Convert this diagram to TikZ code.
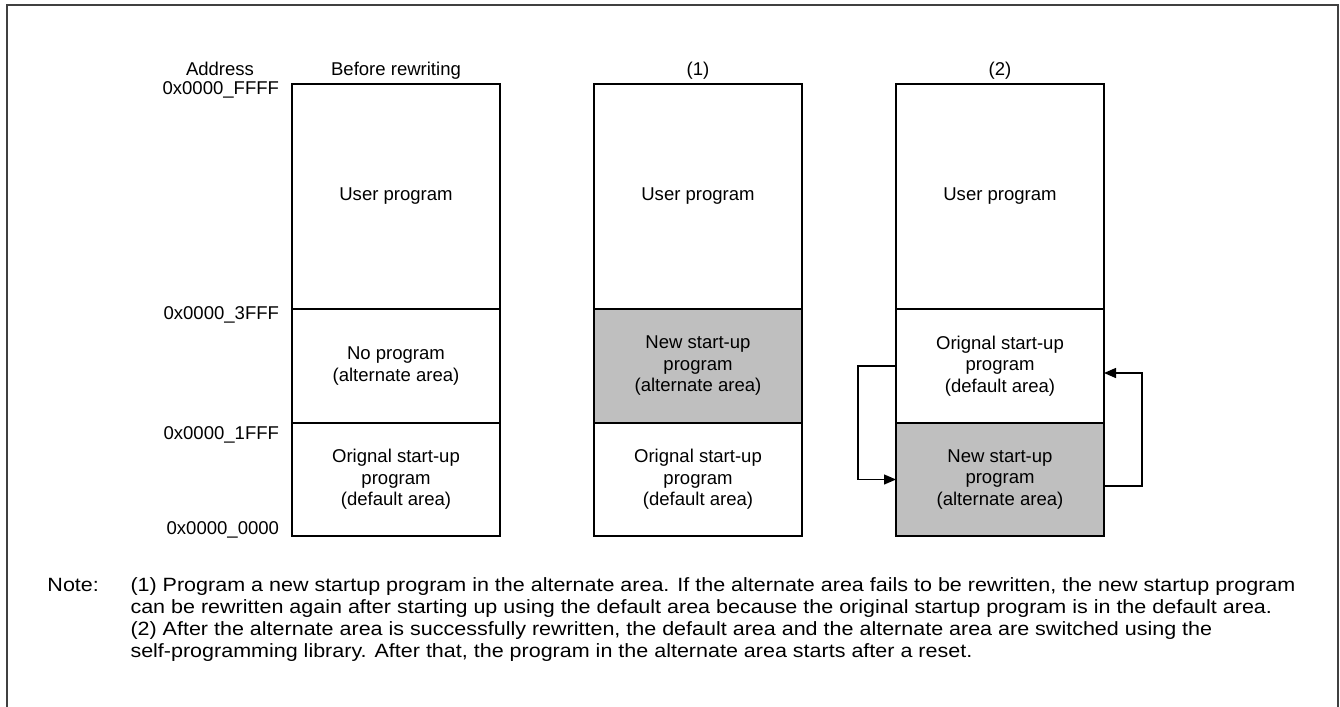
\documentclass[tikz,border=0pt]{standalone}
\usepackage{fontspec}
\setmainfont{Liberation Sans}
\newfontfamily\notefont[FakeStretch=1.12]{Liberation Sans}
\usetikzlibrary{arrows.meta}
\begin{document}
\begin{tikzpicture}[x=0.75pt,y=-0.75pt,
  every node/.style={font=\fontsize{13.9}{16.1}\selectfont, inner sep=0pt, outer sep=0pt},
  mem/.style={draw=black, line width=1.2pt, minimum width=156pt, align=center},
  hi/.style={mem, minimum height=168.75pt},
  mid/.style={mem, minimum height=85.5pt},
  lo/.style={mem, minimum height=84.75pt},
  shade/.style={fill=gray!50},
  addr/.style={anchor=base east},
  ttl/.style={anchor=base},
  arr/.style={line width=1pt, -{Triangle[length=9pt,width=7.5pt]}},
  ln/.style={anchor=base west, font=\notefont\fontsize{14.4}{16.5}\selectfont}]
\useasboundingbox (0,0) rectangle (1340,707);
\draw[line width=1.5pt, draw=black!75] (7,5) rectangle (1337.5,720);

% titles
\node[ttl] (tA) at (220,75.5) {Address};
\node[ttl] (t0) at (396,75.5) {Before rewriting};
\node[ttl] (t1) at (698,75.5) {(1)};
\node[ttl] (t2) at (1000,75.5) {(2)};

% address labels
\node[addr] (aF) at (279,94) {0x0000\_FFFF};
\node[addr] (a3) at (279,319.5) {0x0000\_3FFF};
\node[addr] (a1) at (279,439.5) {0x0000\_1FFF};
\node[addr] (a0) at (279,534.5) {0x0000\_0000};

% column: before rewriting
\node[hi] (c1hi) at (396,196.5) {User program};
\node[mid] (c1mid) at (396,366) {No program\\(alternate area)};
\node[lo] (c1lo) at (396,479.5) {Orignal start-up\\program\\(default area)};

% column (1)
\node[hi] (c2hi) at (698,196.5) {User program};
\node[mid,shade] (c2mid) at (698,366) {New start-up\\program\\(alternate area)};
\node[lo] (c2lo) at (698,479.5) {Orignal start-up\\program\\(default area)};

% column (2)
\node[hi] (c3hi) at (1000,196.5) {User program};
\node[mid] (c3mid) at (1000,366) {Orignal start-up\\program\\(default area)};
\node[lo,shade] (c3lo) at (1000,479.5) {New start-up\\program\\(alternate area)};

% swap arrows
\draw[arr] (c3mid.west) -- ++(-38,0) |- (c3lo.west);
\draw[arr] ([yshift=-4.9pt]c3lo.east) -- ++(38,0) |- ([yshift=-5.25pt]c3mid.east);

% note
\node[ln] (nt) at (47.5,591) {Note:};
\node[ln] (n1) at (130.5,591) {(1) Program a new startup program in the alternate area. If the alternate area fails to be rewritten, the new startup program};
\node[ln] (n2) at (130.5,613) {can be rewritten again after starting up using the default area because the original startup program is in the default area.};
\node[ln] (n3) at (130.5,635) {(2) After the alternate area is successfully rewritten, the default area and the alternate area are switched using the};
\node[ln] (n4) at (130.5,657) {self-programming library. After that, the program in the alternate area starts after a reset.};
\end{tikzpicture}
\end{document}
